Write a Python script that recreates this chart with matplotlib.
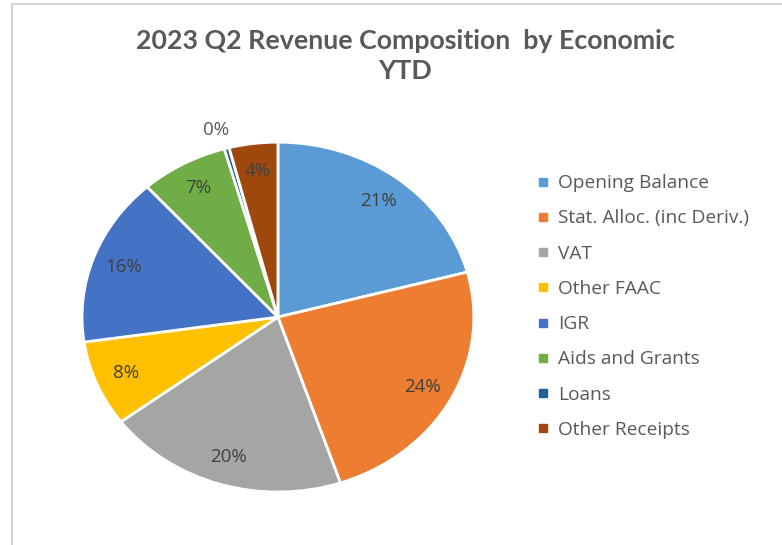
import matplotlib.pyplot as plt
from matplotlib.lines import Line2D

# values (percent of YTD revenue)
categories = ["Opening Balance", "Stat. Alloc. (inc Deriv.)", "VAT", "Other FAAC",
              "IGR", "Aids and Grants", "Loans", "Other Receipts"]
shares = [20.8, 23.9, 19.9, 7.9, 15.6, 7.2, 0.4, 4.0]
colors = ["#5B9BD5", "#ED7D31", "#A5A5A5", "#FFC000",
          "#4472C4", "#70AD47", "#255E91", "#9E480E"]

title = "2023 Q2 Revenue Composition  by Economic\nYTD"
text_col = "#595959"

fig = plt.figure(figsize=(7.82, 5.45), dpi=100, facecolor="white")

# pie is stretched a little wider than tall in the original
ax = fig.add_axes([0.1049, 0.0972, 0.501, 0.642])
wedges, texts, autotexts = ax.pie(
    shares, colors=colors, startangle=90, counterclock=False,
    autopct=lambda p: f"{p:.0f}%", pctdistance=0.84,
    wedgeprops=dict(edgecolor="white", linewidth=2),
    textprops=dict(color="#404040", fontsize=13.5, family="Open Sans"))
ax.set_aspect("auto")
ax.set_xlim(-1, 1)
ax.set_ylim(-1, 1)

# the tiny Loans slice gets its label outside the pie
loans = categories.index("Loans")
autotexts[loans].set_position((-0.316, 1.07))
autotexts[loans].set_color(text_col)

fig.text(0.518, 0.947, title, ha="center", va="top", fontsize=19.3,
         fontweight="bold", color=text_col, family="Lato",
         linespacing=1.3)

handles = [Line2D([], [], marker="s", linestyle="none", markersize=6,
                  markerfacecolor=c, markeredgecolor=c) for c in colors]
leg = fig.legend(handles, categories, loc="upper left",
                 bbox_to_anchor=(0.665, 0.712), frameon=False,
                 handlelength=0.6, handletextpad=0.5, labelspacing=0.9,
                 prop=dict(family="Open Sans", size=13.8))
for t in leg.get_texts():
    t.set_color(text_col)

# light frame lines from the screenshot
fig.add_artist(Line2D([0.0155, 0.0155], [0, 0.992], transform=fig.transFigure,
                      color="#D4D4D4", linewidth=1.5))
fig.add_artist(Line2D([0.0155, 1], [0.992, 0.992], transform=fig.transFigure,
                      color="#D4D4D4", linewidth=1.5))

fig.savefig("out.png", dpi=100, facecolor="white")
